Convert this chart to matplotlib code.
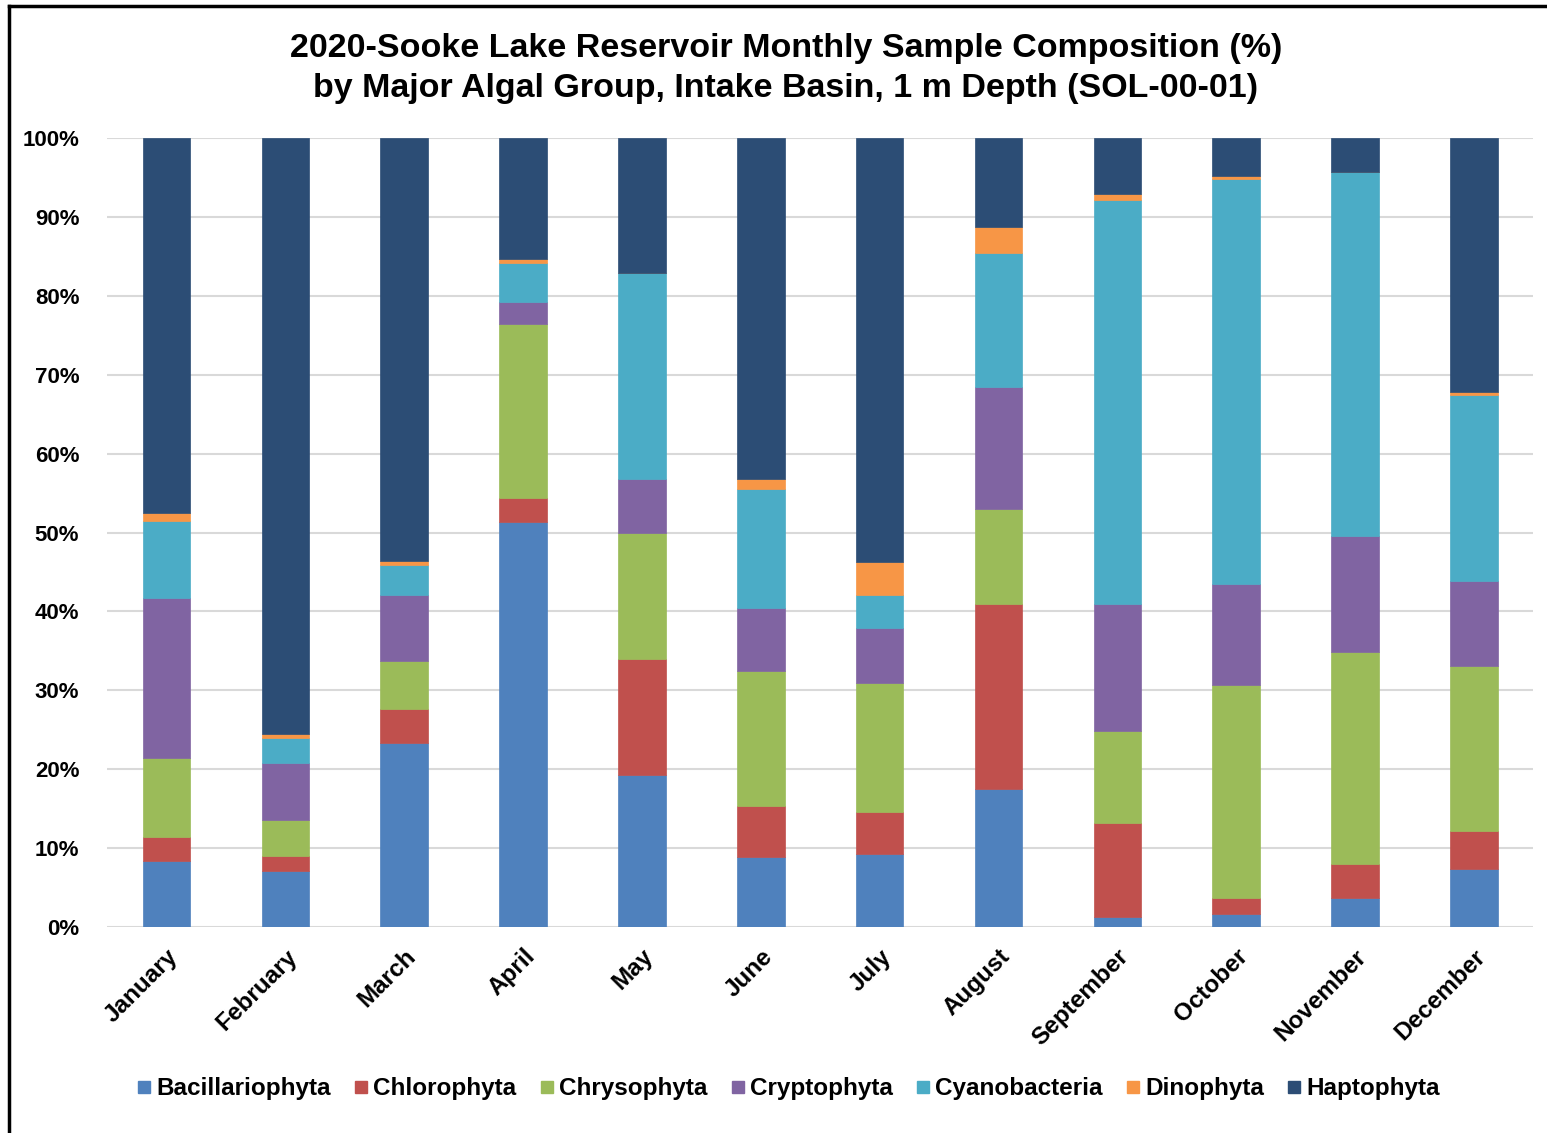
import matplotlib.pyplot as plt
import numpy as np
from matplotlib.lines import Line2D

plt.rcParams['font.family'] = ['Liberation Sans', 'DejaVu Sans']

months = ["January", "February", "March", "April", "May", "June",
          "July", "August", "September", "October", "November", "December"]

# % composition per month
bacillariophyta = [8.4, 7.1, 23.3, 51.3, 19.3, 8.9, 9.2, 17.5, 1.3, 1.6, 3.6, 7.3]
chlorophyta     = [3.0, 1.9, 4.3, 3.1, 14.6, 6.4, 5.4, 23.4, 11.9, 2.1, 4.3, 4.9]
chrysophyta     = [10.0, 4.5, 6.1, 22.1, 16.0, 17.1, 16.3, 12.1, 11.6, 26.9, 26.9, 20.9]
cryptophyta     = [20.3, 7.3, 8.4, 2.7, 6.9, 8.0, 7.0, 15.5, 16.1, 12.9, 14.7, 10.8]
cyanobacteria   = [9.8, 3.1, 3.8, 5.0, 26.1, 15.1, 4.2, 16.9, 51.3, 51.3, 46.2, 23.6]
dinophyta       = [1.0, 0.6, 0.5, 0.5, 0.0, 1.3, 4.1, 3.4, 0.7, 0.4, 0.0, 0.3]
haptophyta      = [47.5, 75.5, 53.6, 15.3, 17.1, 43.2, 53.8, 11.2, 7.1, 4.8, 4.3, 32.2]

groups = ["Bacillariophyta", "Chlorophyta", "Chrysophyta", "Cryptophyta",
          "Cyanobacteria", "Dinophyta", "Haptophyta"]
series = [bacillariophyta, chlorophyta, chrysophyta, cryptophyta,
          cyanobacteria, dinophyta, haptophyta]
colors = ["#4f81bd", "#c0504d", "#9bbb59", "#8064a2", "#4bacc6", "#f79646", "#2c4d75"]

fig = plt.figure(figsize=(15.47, 11.33), dpi=100)
ax = fig.add_axes([0.0692, 0.182, 0.922, 0.696])

x = np.arange(len(months))
bottom = np.zeros(len(months))
for name, vals, c in zip(groups, series, colors):
    vals = np.array(vals)
    ax.bar(x, vals, 0.40, bottom=bottom, color=c, label=name, zorder=3,
           edgecolor=c, linewidth=0.5)
    bottom += vals

ax.set_xlim(-0.5, 11.5)
ax.set_ylim(0, 100)
ax.set_yticks(np.arange(0, 101, 10))
ax.set_yticklabels([f"{v}%" for v in range(0, 101, 10)], fontsize=16, fontweight='bold')
ax.set_xticks(x)
ax.set_xticklabels(months, rotation=45, ha='right', rotation_mode='anchor',
                   fontsize=17.5, fontweight='bold')
ax.tick_params(axis='both', length=0)
ax.tick_params(axis='y', pad=20)
ax.tick_params(axis='x', pad=13)
ax.grid(axis='y', color='#d9d9d9', linewidth=1.5, zorder=0)
for s in ax.spines.values():
    s.set_visible(False)

fig.suptitle("2020-Sooke Lake Reservoir Monthly Sample Composition (%)\n"
             "by Major Algal Group, Intake Basin, 1 m Depth (SOL-00-01)",
             x=0.508, y=0.971, fontsize=24.5, fontweight='bold', linespacing=1.4)

handles = [Line2D([0], [0], marker='s', color='w', markerfacecolor=c,
                  markeredgecolor=c, markersize=9) for c in colors]
fig.legend(handles, groups, loc='center', bbox_to_anchor=(0.508, 0.039), ncol=7,
           frameon=False, prop={'size': 17.5, 'weight': 'bold'},
           handletextpad=0.0, columnspacing=0.75, handlelength=1.0)

# screenshot frame on the left and top
fig.add_artist(Line2D([0.006, 0.006], [0, 0.995], color='black', linewidth=2.5,
                      transform=fig.transFigure))
fig.add_artist(Line2D([0.006, 1.0], [0.995, 0.995], color='black', linewidth=2.5,
                      transform=fig.transFigure))

fig.savefig("out.png", dpi=100)
